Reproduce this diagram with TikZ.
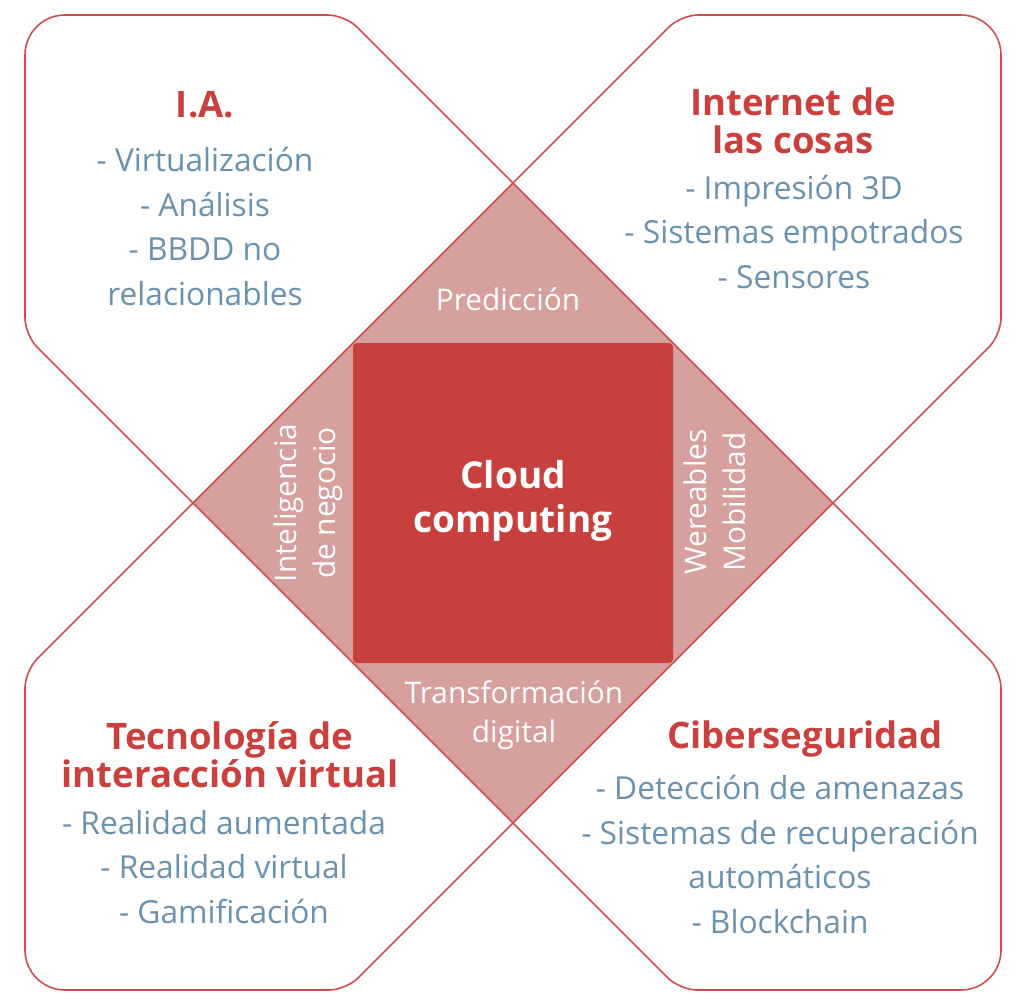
\documentclass[tikz,border=0pt]{standalone}
\usepackage{fontspec}
\setmainfont{Open Sans}
\definecolor{linered}{HTML}{CF4D4D}
\definecolor{diamondpink}{HTML}{D5A09E}
\definecolor{cloudred}{HTML}{C8403D}
\definecolor{titlered}{HTML}{C9403E}
\definecolor{itemblue}{HTML}{6A92AE}
\tikzset{
  quad/.style={draw=linered, line width=1.6pt, line join=round},
  heading/.style={text=titlered, font=\fontsize{36.5}{38}\selectfont\bfseries, align=center, anchor=base, inner sep=0pt},
  items/.style={text=itemblue, font=\fontsize{31.7}{44.5}\selectfont, align=center, anchor=base, inner sep=0pt},
  ontint/.style={text=white, font=\fontsize{29.8}{38.5}\selectfont, align=center, anchor=base, inner sep=0pt},
  cloudtext/.style={text=white, font=\fontsize{37}{44}\selectfont\bfseries, align=center, anchor=base, inner sep=0pt},
}
\begin{document}
\begin{tikzpicture}[x=1pt,y=-1pt]
\useasboundingbox (0,0) rectangle (1024,1002);
% rombo central
\fill[diamondpink] (513,183) -- (833,503) -- (513,823) -- (193,503) -- cycle;
\draw[quad] (513,183) -- (833,503) -- (513,823) -- (193,503) -- cycle;
% cuadrantes
\draw[quad] (513,183) [rounded corners=17pt] -- (345,15) [rounded corners=40pt] -- (25,15) [rounded corners=17pt] -- (25,335) -- (193,503);
\draw[quad] (513,183) [rounded corners=17pt] -- (681,15) [rounded corners=40pt] -- (1001,15) [rounded corners=17pt] -- (1001,335) -- (833,503);
\draw[quad] (193,503) [rounded corners=17pt] -- (25,671) [rounded corners=40pt] -- (25,990) [rounded corners=17pt] -- (346,990) -- (513,823);
\draw[quad] (833,503) [rounded corners=17pt] -- (1001,671) [rounded corners=40pt] -- (1001,990) [rounded corners=17pt] -- (680,990) -- (513,823);
% cuadrado central
\fill[cloudred, rounded corners=4pt] (353,343) rectangle (673,663);
% textos (anclados en la linea base de la ultima linea)
\node[heading] (ia) at (205,117) {I.A.};
\node[items] (ialist) at (205,305) {- Virtualización\\- Análisis\\- BBDD no\\relacionables};
\node[heading] (iot) at (793,153) {Internet de\\las cosas};
\node[items] (iotlist) at (794,288) {- Impresión 3D\\- Sistemas empotrados\\- Sensores};
\node[heading] (tiv) at (230,787) {Tecnología de\\interacción virtual};
\node[items] (tivlist) at (224,923) {- Realidad aumentada\\- Realidad virtual\\- Gamificación};
\node[heading] (ciber) at (805,748) {Ciberseguridad};
\node[items] (ciberlist) at (780,933) {- Detección de amenazas\\- Sistemas de recuperación\\automáticos\\- Blockchain};
\node[ontint] (pred) at (508,310) {Predicción};
\node[ontint] (transf) at (514,742) {Transformación\\digital};
\node[ontint, rotate=90] (intel) at (335,503) {Inteligencia\\de negocio};
\node[ontint, rotate=90] (wear) at (745,502) {Wereables\\Mobilidad};
\node[cloudtext] (cloud) at (513,532) {Cloud\\computing};
\end{tikzpicture}
\end{document}
